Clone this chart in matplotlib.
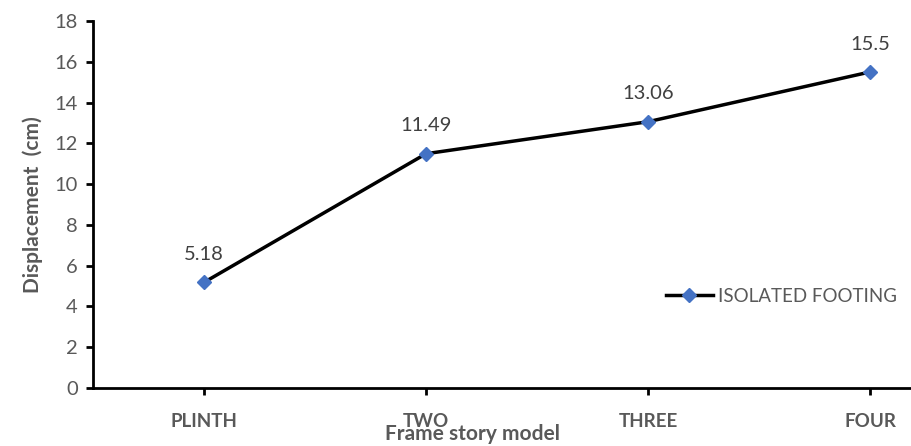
import matplotlib.pyplot as plt

stories = ['PLINTH', 'TWO', 'THREE', 'FOUR']
displacement = [5.18, 11.49, 13.06, 15.5]
value_labels = ['5.18', '11.49', '13.06', '15.5']

plt.rcParams['font.family'] = ['Lato', 'DejaVu Sans']
grey = '#595959'

fig = plt.figure(figsize=(9.11, 4.46), dpi=100)
ax = fig.add_axes([93 / 911, 58 / 446, 888 / 911, 367 / 446])

x = range(len(stories))
ax.plot(x, displacement, color='black', linewidth=2.5, marker='D',
        markersize=7, markerfacecolor='#4472C4', markeredgecolor='#4472C4',
        label='ISOLATED FOOTING')

# value labels above each point
for xi, yi, txt in zip(x, displacement, value_labels):
    ax.annotate(txt, (xi, yi), xytext=(0, 14), textcoords='offset points',
                ha='center', va='bottom', fontsize=14.5, color='#404040')

ax.set_xlim(-0.5, 3.5)
ax.set_ylim(0, 18)
ax.set_yticks(range(0, 19, 2))
ax.set_xticks(list(x))
ax.set_xticklabels(stories, fontweight='bold')

for side in ['top', 'right']:
    ax.spines[side].set_visible(False)
for side in ['left', 'bottom']:
    ax.spines[side].set_linewidth(2)
ax.tick_params(axis='y', labelsize=14.5, labelcolor=grey, length=5, width=2, pad=6)
ax.tick_params(axis='x', labelsize=13.5, labelcolor=grey, length=5, width=2, pad=13)

ax.set_ylabel('Displacement  (cm)', fontsize=15, fontweight='bold', color=grey, labelpad=8)
ax.set_xlabel('Frame story model', fontsize=15, fontweight='bold', color=grey)
ax.xaxis.label.set_va('center')
ax.xaxis.set_label_coords(379 / 888, -46 / 367)

ax.legend(loc='center left', bbox_to_anchor=(556 / 888, 92 / 367),
          frameon=False, fontsize=13.5, labelcolor=grey, handlelength=2.5,
          handletextpad=0.3)

plt.savefig('out.png', dpi=100)
